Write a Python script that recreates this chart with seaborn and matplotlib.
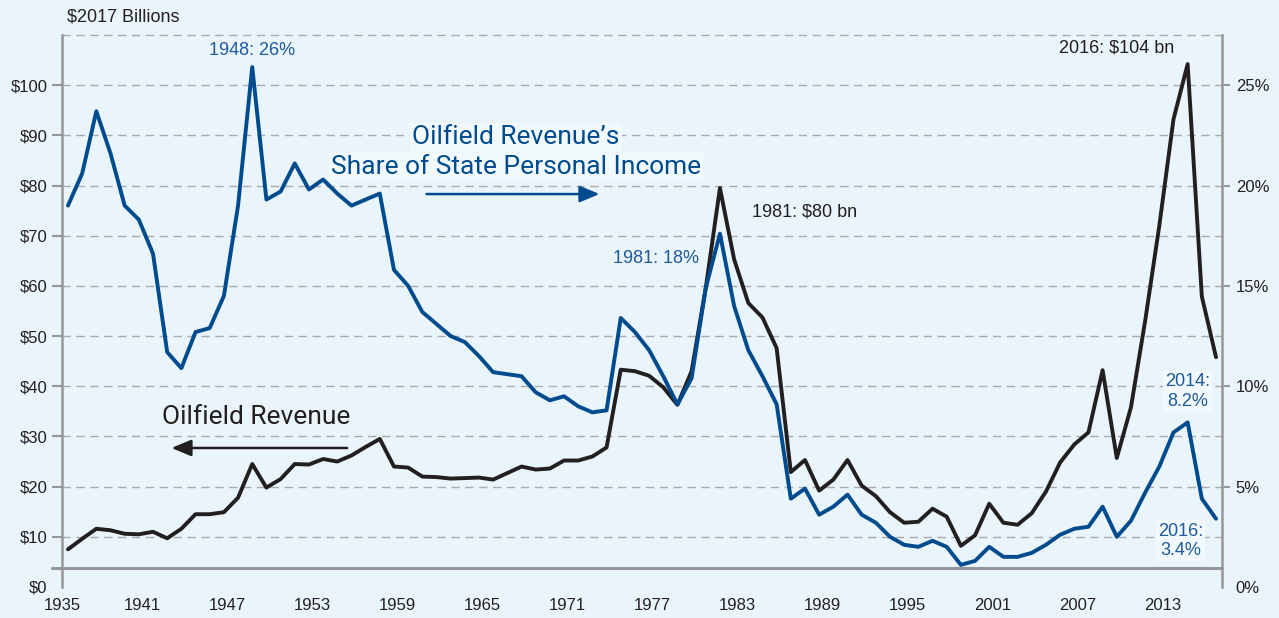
import seaborn as sns
import matplotlib.pyplot as plt

# Oilfield revenue ($2017 billions) and its share of state personal income (%)
years = list(range(1935, 2017))
revenue = [7.5, 9.6, 11.6, 11.3, 10.6, 10.5, 11.0, 9.7, 11.6, 14.5,
           14.5, 14.9, 17.8, 24.5, 19.8, 21.5, 24.5, 24.4, 25.5, 25.0,
           26.2, 27.9, 29.5, 24.0, 23.8, 22.0, 21.9, 21.6, 21.7, 21.8,
           21.4, 22.7, 24.0, 23.4, 23.6, 25.2, 25.2, 26.0, 27.8, 43.3,
           43.0, 42.1, 39.8, 36.3, 43.0, 59.6, 79.5, 65.3, 56.6, 53.7,
           47.6, 22.9, 25.3, 19.2, 21.4, 25.3, 20.2, 18.1, 14.9, 12.8,
           13.0, 15.6, 14.0, 8.2, 10.3, 16.6, 12.8, 12.4, 14.7, 19.0,
           24.8, 28.4, 30.8, 43.2, 25.7, 35.8, 53.0, 72.0, 93.2, 104.2,
           57.9, 45.8]
share = [19.0, 20.6, 23.7, 21.6, 19.0, 18.3, 16.6, 11.7, 10.9, 12.7,
         12.9, 14.5, 19.0, 25.9, 19.3, 19.7, 21.1, 19.8, 20.3, 19.6,
         19.0, 19.3, 19.6, 15.8, 15.0, 13.7, 13.1, 12.5, 12.2, 11.5,
         10.7, 10.6, 10.5, 9.7, 9.3, 9.5, 9.0, 8.7, 8.8, 13.4,
         12.7, 11.8, 10.5, 9.1, 10.4, 14.9, 17.6, 14.0, 11.8, 10.5,
         9.1, 4.4, 4.9, 3.6, 4.0, 4.6, 3.6, 3.2, 2.5, 2.1,
         2.0, 2.3, 2.0, 1.1, 1.3, 2.0, 1.5, 1.5, 1.7, 2.1,
         2.6, 2.9, 3.0, 4.0, 2.5, 3.3, 4.7, 6.0, 7.7, 8.2,
         4.4, 3.4]

tick_years = list(range(1935, 2014, 3))
left_ticks = list(range(0, 101, 10))
right_ticks = list(range(0, 26, 5))

BG = "#EAF4FB"
BLACK = "#231F20"
BLUE = "#004B8D"
BLUE_TXT = "#1F5A9A"
GRAY = "#959799"
GRID = "#A9ABAE"

sns.set_style("white")
plt.rcParams['font.family'] = ['Liberation Sans', 'DejaVu Sans']
BIG = ['Roboto', 'Liberation Sans', 'DejaVu Sans']

fig = plt.figure(figsize=(12.79, 6.18), dpi=100, facecolor=BG)
ax = fig.add_axes([0.0485, 0.0502, 0.9069, 0.8932])
ax.set_facecolor(BG)
ax2 = ax.twinx()

sns.lineplot(x=years, y=revenue, ax=ax, color=BLACK, lw=2.8, zorder=3)
sns.lineplot(x=years, y=share, ax=ax2, color=BLUE, lw=2.8, zorder=3)

xmin, xmax = 1934.58, 2016.42
ax.set_xlim(xmin, xmax)
ax.set_ylim(0, 110)
ax2.set_ylim(0, 27.5)
ax.set_xlabel("")
ax.set_ylabel("")
ax2.set_ylabel("")

# dashed gridlines and the grey baseline
for v in range(10, 111, 10):
    ax.axhline(v, color=GRID, lw=1.0, ls=(0, (6, 4)), zorder=0.5, clip_on=False)
ax.axhline(3.8, xmin=-0.0086, xmax=1.0, color=GRAY, lw=2.2, clip_on=False, zorder=1)

# spines
for s in ["top", "right", "bottom"]:
    ax.spines[s].set_visible(False)
for s in ["top", "left", "bottom"]:
    ax2.spines[s].set_visible(False)
ax.spines["left"].set_color(GRAY)
ax.spines["left"].set_linewidth(1.8)
ax2.spines["right"].set_color(GRAY)
ax2.spines["right"].set_linewidth(1.8)

# x ticks (labels every 6 years, small marks every 3)
xpos = [max(y - 0.75, xmin) for y in tick_years]
ax.set_xticks(xpos)
ax.set_xticklabels([str(y) if (y - 1935) % 6 == 0 else "" for y in tick_years])
ax.tick_params(axis="x", direction="out", length=6, width=1.1, color=GRAY,
               labelsize=12, pad=2, labelcolor=BLACK)

ax.set_yticks(left_ticks)
ax.set_yticklabels([f"${v}" for v in left_ticks])
ax.tick_params(axis="y", direction="out", length=7.5, width=1.5, color=GRAY,
               labelsize=12, pad=3, labelcolor=BLACK)
ax.yaxis.get_major_ticks()[0].tick1line.set_visible(False)

ax2.set_yticks(right_ticks)
ax2.set_yticklabels([f"{v}%" for v in right_ticks])
ax2.tick_params(axis="y", direction="out", length=6, width=1.5, color=GRAY,
                labelsize=12, pad=4, labelcolor=BLACK)
ax2.yaxis.get_major_ticks()[0].tick2line.set_visible(False)

# texts
fig.text(67 / 1279, 1 - 17 / 618, "$2017 Billions", ha="left", va="center",
         fontsize=13, color=BLACK)

box = dict(facecolor="#F2F9FD", edgecolor="none", pad=1.5)
ax.text(1966.6, 89.6, "Oilfield Revenue\u2019s", ha="center", va="center",
        fontsize=19, color=BLUE, family=BIG, bbox=box, zorder=4)
ax.text(1966.6, 83.7, "Share of State Personal Income", ha="center", va="center",
        fontsize=19, color=BLUE, family=BIG, bbox=box, zorder=4)
ax.annotate("", xy=(1972.5, 78.3), xytext=(1960.3, 78.3),
            arrowprops=dict(arrowstyle="-|>,head_length=0.6,head_width=0.25",
                            lw=1.8, color=BLUE, mutation_scale=20,
                            shrinkA=0, shrinkB=0), zorder=4)

ax.text(1948.3, 33.9, "Oilfield Revenue", ha="center", va="center",
        fontsize=19, color=BLACK, family=BIG, zorder=4)
ax.annotate("", xy=(1942.3, 27.7), xytext=(1954.7, 27.7),
            arrowprops=dict(arrowstyle="-|>,head_length=0.6,head_width=0.25",
                            lw=1.8, color=BLACK, mutation_scale=20,
                            shrinkA=0, shrinkB=0), zorder=4)

ax.text(1948.0, 107.0, "1948: 26%", ha="center", va="center", fontsize=13, color=BLUE_TXT)
ax.text(1976.5, 65.5, "1981: 18%", ha="center", va="center", fontsize=13, color=BLUE_TXT)
ax.text(1987.0, 74.7, "1981: $80 bn", ha="center", va="center", fontsize=13, color=BLACK)
ax.text(2009.0, 107.4, "2016: $104 bn", ha="center", va="center", fontsize=13, color=BLACK)
ax.text(2014.0, 39.0, "2014:\n8.2%", ha="center", va="center", fontsize=13,
        color=BLUE_TXT, bbox=box, zorder=4)
ax.text(2013.5, 9.2, "2016:\n3.4%", ha="center", va="center", fontsize=13,
        color=BLUE_TXT, bbox=box, zorder=4)

fig.savefig("out.png", dpi=100, facecolor=BG)
